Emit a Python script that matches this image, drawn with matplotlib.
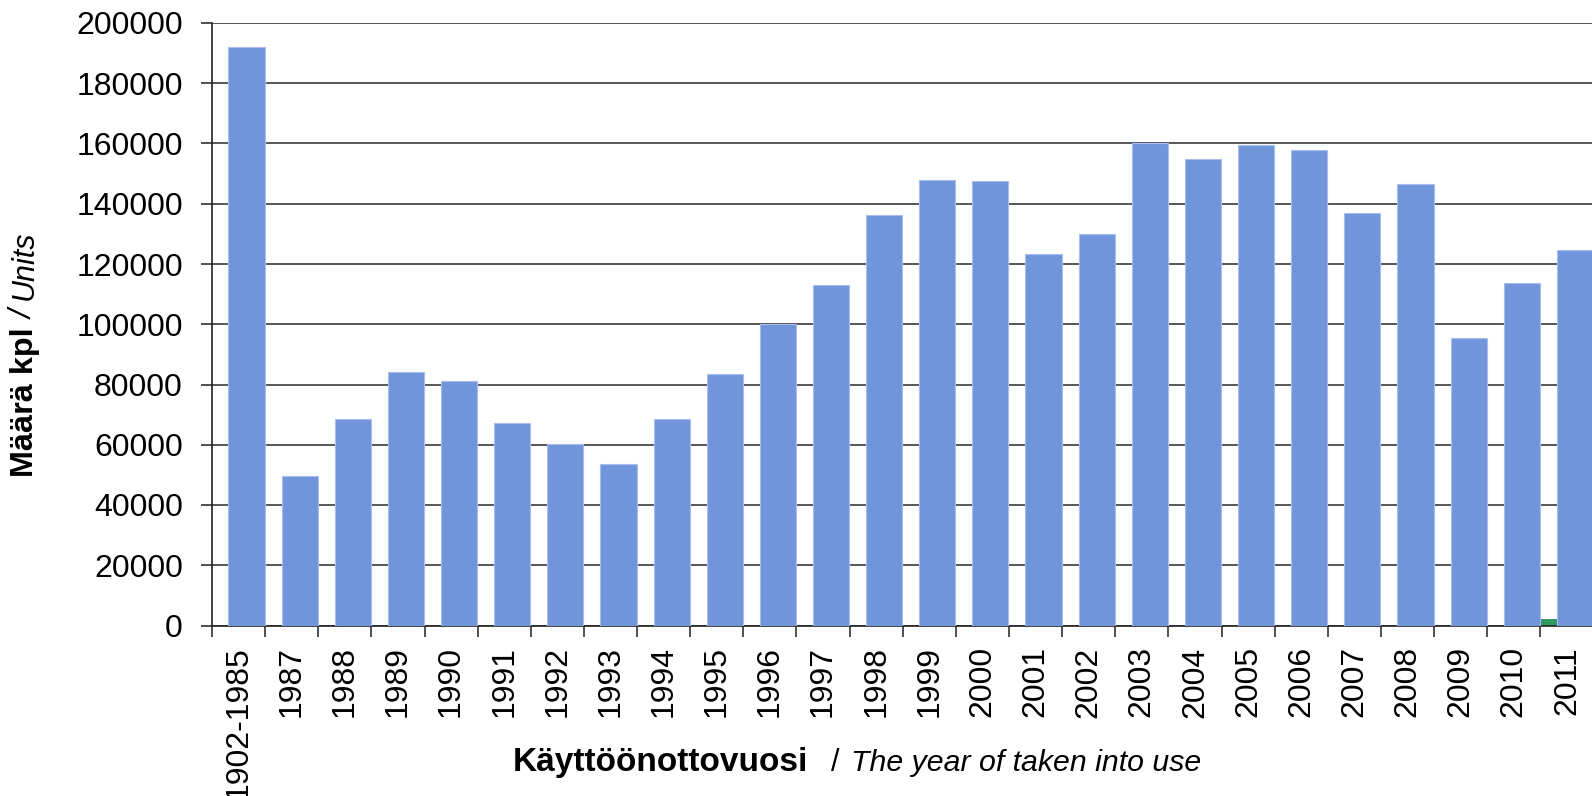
import matplotlib
matplotlib.use('Agg')
import matplotlib.pyplot as plt
import numpy as np

plt.rcParams.update({
    'font.family': ['Liberation Sans', 'DejaVu Sans'],
    'font.size': 23,
})

categories = ['1902-1985', '1987', '1988', '1989', '1990', '1991', '1992', '1993',
              '1994', '1995', '1996', '1997', '1998', '1999', '2000', '2001', '2002',
              '2003', '2004', '2005', '2006', '2007', '2008', '2009', '2010', '2011']
# blue series
units_blue = [192000, 49500, 68700, 84200, 81200, 67300, 60400, 53600,
              68700, 83500, 100000, 113100, 136100, 147800, 147400, 123200, 130000,
              160100, 154700, 159400, 157700, 136900, 146700, 95300, 113600, 124600]
# green series (only the last year has a value)
units_green = [0] * 25 + [2100]

C_BLUE = '#7195DA'
C_GREEN = '#2E9A62'

W, H = 1592, 796
fig = plt.figure(figsize=(W / 100, H / 100), dpi=100)
ax = fig.add_axes([212 / W, 1 - 625.5 / H, (1593.5 - 212) / W, (625.5 - 23) / H])

x = np.arange(len(categories))
bw = 0.68
ax.bar(x - 0.48, units_green, width=bw, align='edge', color=C_GREEN,
       edgecolor='none', zorder=2)
ax.bar(x - 0.19, units_blue, width=bw, align='edge', color=C_BLUE,
       edgecolor='#A8BEEE', linewidth=0.8, zorder=3)

ax.set_xlim(-0.5, len(categories) - 0.5)
ax.set_ylim(0, 200000)
ax.set_yticks(np.arange(0, 200001, 20000))
ax.yaxis.grid(True, color='#3a3a3a', linewidth=1.2, zorder=1)
ax.set_axisbelow(True)

# tick marks on category boundaries, labels at category centres
ax.set_xticks(np.arange(-0.5, len(categories) + 0.5, 1.0))
ax.set_xticklabels([])
ax.set_xticks(x, minor=True)
ax.set_xticklabels(categories, minor=True, rotation=90, va='top', ha='center')
ax.tick_params(axis='x', which='major', length=8, width=1.1, color='#222222')
ax.tick_params(axis='x', which='minor', length=0, pad=15)
ax.tick_params(axis='y', length=8, width=1.1, color='#222222', pad=13)

for s in ['top', 'right']:
    ax.spines[s].set_visible(False)
for s in ['left', 'bottom']:
    ax.spines[s].set_linewidth(1.2)
    ax.spines[s].set_color('#222222')

# x label: bold Finnish / italic English
ly = 1 - 763 / H
fig.text(808 / W, ly, 'Käyttöönottovuosi', ha='right', va='center', weight='bold', fontsize=24)
fig.text(835 / W, ly, '/', ha='center', va='center', fontsize=22)
fig.text(851 / W, ly, 'The year of taken into use', ha='left', va='center',
         style='italic', fontsize=21.8)

# y label
lx = 25 / W
fig.text(lx, 1 - 477 / H, 'Määrä kpl', rotation=90, ha='center', va='bottom',
         weight='bold', fontsize=23.3)
fig.text(lx, 1 - 315 / H, '/', rotation=90, ha='center', va='center', style='italic')
fig.text(lx, 1 - 230 / H, 'Units', rotation=90, ha='center', va='top', style='italic',
         fontsize=22)

fig.savefig('out.png', dpi=100)
plt.close(fig)
